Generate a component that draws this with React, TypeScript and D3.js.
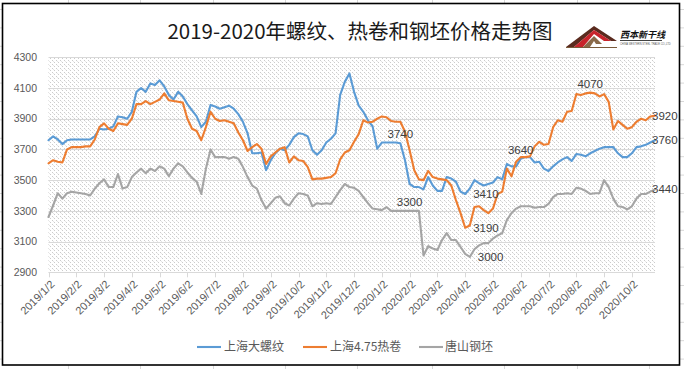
import React from 'react';
import * as d3 from 'd3';

const monthLabels = [
  '2019/1/2', '2019/2/2', '2019/3/2', '2019/4/2', '2019/5/2', '2019/6/2', '2019/7/2', '2019/8/2',
  '2019/9/2', '2019/10/2', '2019/11/2', '2019/12/2', '2020/1/2', '2020/2/2', '2020/3/2', '2020/4/2',
  '2020/5/2', '2020/6/2', '2020/7/2', '2020/8/2', '2020/9/2', '2020/10/2',
];
const pointsPerMonth = 6;
const yTicks = [2900, 3100, 3300, 3500, 3700, 3900, 4100, 4300];

const seriesNames = ['上海大螺纹', '上海4.75热卷', '唐山钢坯'];
const seriesColors = ['#5b9bd5', '#ed7d31', '#a5a5a5'];

const rebar = [
  3760, 3785, 3765, 3735, 3760, 3765, 3765, 3765, 3765, 3765,
  3785, 3835, 3830, 3835, 3850, 3915, 3910, 3900, 3945, 4075,
  4100, 4075, 4130, 4120, 4150, 4110, 4055, 4025, 4075, 4045,
  3995, 3955, 3915, 3845, 3880, 3990, 3980, 3965, 3975, 3985,
  3965, 3930, 3880, 3805, 3675, 3675, 3680, 3565, 3630, 3675,
  3705, 3695, 3730, 3780, 3805, 3800, 3785, 3695, 3665, 3695,
  3745, 3770, 3805, 4055, 4140, 4195, 4075, 3985, 3945, 3890,
  3850, 3705, 3745, 3745, 3745, 3745, 3740, 3630, 3475, 3455,
  3455, 3440, 3520, 3465, 3430, 3430, 3520, 3510, 3490, 3425,
  3410, 3445, 3500, 3480, 3465, 3475, 3485, 3520, 3505, 3605,
  3590, 3590, 3640, 3650, 3650, 3615, 3620, 3575, 3560, 3590,
  3615, 3635, 3650, 3625, 3670, 3665, 3655, 3675, 3690, 3705,
  3715, 3715, 3715, 3675, 3650, 3650, 3675, 3715, 3720, 3730,
  3745, 3760,
];

const hotCoil = [
  3610, 3630, 3620, 3615, 3700, 3715, 3715, 3715, 3720, 3720,
  3765, 3845, 3870, 3835, 3820, 3870, 3865, 3860, 3900, 3995,
  3995, 4015, 3995, 4010, 4025, 4065, 4020, 4015, 4010, 4005,
  3900, 3835, 3820, 3760, 3845, 3945, 3900, 3885, 3890, 3880,
  3870, 3810, 3760, 3690, 3715, 3735, 3705, 3605, 3655, 3680,
  3705, 3715, 3615, 3655, 3630, 3625, 3585, 3505, 3510, 3510,
  3515, 3520, 3545, 3635, 3680, 3695, 3750, 3800, 3890, 3875,
  3880, 3900, 3915, 3910, 3885, 3880, 3880, 3815, 3695, 3565,
  3505, 3500, 3560, 3520, 3510, 3505, 3500, 3465, 3370, 3285,
  3190, 3205, 3325, 3330, 3305, 3285, 3315, 3410, 3425, 3575,
  3525, 3620, 3650, 3650, 3655, 3720, 3750, 3730, 3735, 3845,
  3890, 3880, 3945, 3950, 4060, 4055, 4065, 4070, 4065, 4045,
  4060, 4010, 3830, 3885, 3860, 3835, 3845, 3880, 3900, 3890,
  3915, 3920,
];

const billet = [
  3260, 3335, 3415, 3380, 3415, 3425, 3420, 3415, 3410, 3400,
  3445, 3480, 3505, 3455, 3455, 3540, 3445, 3455, 3520, 3550,
  3575, 3545, 3575, 3560, 3590, 3575, 3525, 3575, 3610, 3590,
  3550, 3515, 3490, 3410, 3575, 3700, 3650, 3650, 3650, 3640,
  3650, 3640, 3585, 3520, 3465, 3445, 3370, 3315, 3350, 3385,
  3395, 3350, 3335, 3380, 3415, 3410, 3400, 3330, 3350, 3345,
  3350, 3345, 3390, 3435, 3475, 3455, 3450, 3430, 3390, 3350,
  3315, 3310, 3305, 3325, 3300, 3300, 3300, 3300, 3300, 3300,
  3300, 3010, 3070, 3055, 3045, 3110, 3155, 3110, 3110, 3065,
  3020, 3000, 3050, 3075, 3090, 3090, 3120, 3140, 3155, 3240,
  3285, 3315, 3330, 3330, 3330, 3320, 3325, 3325, 3345, 3390,
  3410, 3410, 3415, 3410, 3450, 3445, 3430, 3410, 3415, 3415,
  3500, 3455, 3380, 3330, 3325, 3310, 3330, 3380, 3410, 3410,
  3425, 3440,
];

// which series / point index gets a value label, and where
const valueLabels = [
  { s: 0, i: 76, pos: 'above' },
  { s: 2, i: 78, pos: 'above' },
  { s: 0, i: 90, pos: 'right' },
  { s: 1, i: 90, pos: 'right' },
  { s: 2, i: 91, pos: 'right' },
  { s: 0, i: 102, pos: 'above' },
  { s: 1, i: 117, pos: 'above' },
  { s: 1, i: 131, pos: 'end' },
  { s: 0, i: 131, pos: 'end' },
  { s: 2, i: 131, pos: 'end' },
];

const W = 684;
const H = 369;
const FONT = '"Liberation Sans", Arial, sans-serif';
const CJK = '"Noto Sans CJK SC", "Noto Sans", sans-serif';

export default function App() {
  const series = [rebar, hotCoil, billet];
  const plot = { left: 48.5, right: 655, top: 57.3, bottom: 272.3 };
  const n = rebar.length;
  const x = d3.scaleLinear().domain([0, n - 1]).range([plot.left, plot.right]);
  const y = d3.scaleLinear().domain([2900, 4300]).range([plot.bottom, plot.top]);
  const line = d3
    .line<number>()
    .x((_, i) => x(i))
    .y((d) => y(d));

  const cols = [68, 140, 213, 285, 357, 432, 504, 577, 649];
  const rows = d3.range(0, 20).map((k) => 9.5 + 18.4 * k);

  const legendItems = [
    { lx: 197, tx: 224 },
    { lx: 303, tx: 330 },
    { lx: 419, tx: 445 },
  ];

  return (
    <svg
      width={W}
      height={H}
      style={{ position: 'absolute', left: 0, top: 0, background: '#fff' }}
    >
      <defs>
        <pattern id="hatch" patternUnits="userSpaceOnUse" width={8} height={8}>
          <rect width={8} height={8} fill="#ffffff" />
          {[
            [0, 0], [2, 2], [4, 4], [6, 6],
            [4, 0], [6, 2], [0, 4], [2, 6],
            [1, 1], [5, 5], [5, 1], [1, 5],
          ].map(([px, py], k) => (
            <rect key={k} x={px} y={py} width={1} height={1} fill={k < 8 ? '#cccccc' : '#e6e6e6'} />
          ))}
        </pattern>
      </defs>

      {/* spreadsheet grid behind the chart */}
      {cols.map((c) => (
        <line key={'c' + c} x1={c + 0.5} x2={c + 0.5} y1={0} y2={H} stroke="#d8d8d8" />
      ))}
      {rows.map((r) => (
        <line key={'r' + r} x1={0} x2={W} y1={r} y2={r} stroke="#d8d8d8" />
      ))}

      {/* chart area */}
      <rect x={2.5} y={3.5} width={677} height={361.5} fill="#fff" stroke="#000" strokeWidth={1.6} />

      {/* title */}
      <text
        x={360}
        y={38.5}
        textAnchor="middle"
        fontFamily={CJK}
        fontSize={20.5}
        fill="#1a1a1a"
      >
        2019-2020年螺纹、热卷和钢坯价格走势图
      </text>

      {/* logo */}
      <g>
        <polygon points="566,47 594,26 617,41 611,41 594,30 574,47" fill="#5a2a1e" />
        <polygon points="574,47 594,30 611,41 604,41 594,34 583,47" fill="#c8242b" />
        <polygon points="583,47 594,36 602,44 596,44 594,41 590,47" fill="#8a6a4a" />
        <line x1={566} y1={47.5} x2={617} y2={47.5} stroke="#7a5a3a" strokeWidth={1} />
        <text x={620} y={38} fontFamily={CJK} fontSize={9} fontWeight={700} fill="#111" fontStyle="italic">
          西本新干线
        </text>
        <line x1={620} y1={40.5} x2={662} y2={40.5} stroke="#111" strokeWidth={0.8} />
        <text x={620} y={45} fontFamily={FONT} fontSize={2.6} fill="#555">
          CHINA WESTERN STEEL TRADE CO.,LTD
        </text>
      </g>

      {/* plot background */}
      <rect
        x={plot.left}
        y={plot.top}
        width={plot.right - plot.left}
        height={plot.bottom - plot.top}
        fill="url(#hatch)"
      />

      {/* gridlines */}
      {yTicks.map((t) => (
        <line
          key={t}
          x1={plot.left}
          x2={plot.right}
          y1={Math.round(y(t)) + 0.5}
          y2={Math.round(y(t)) + 0.5}
          stroke="#d9d9d9"
          strokeWidth={1}
        />
      ))}

      {/* y axis labels */}
      {yTicks.map((t) => (
        <text
          key={'yl' + t}
          x={37}
          y={y(t)}
          dy="0.35em"
          textAnchor="end"
          fontFamily={FONT}
          fontSize={10.5}
          fill="#595959"
        >
          {t}
        </text>
      ))}

      {/* x axis ticks and labels */}
      {monthLabels.map((lab, m) => {
        const tx = Math.round(x(m * pointsPerMonth)) + 0.5;
        return (
          <g key={lab}>
            <line x1={tx} x2={tx} y1={plot.bottom} y2={plot.bottom + 5} stroke="#d9d9d9" />
            <text
              transform={`translate(${tx + 3},${plot.bottom + 10}) rotate(-45)`}
              textAnchor="end"
              dy="0.35em"
              fontFamily={FONT}
              fontSize={11}
              fill="#595959"
            >
              {lab}
            </text>
          </g>
        );
      })}

      {/* series lines */}
      {series.map((s, k) => (
        <path
          key={k}
          d={line(s) || ''}
          fill="none"
          stroke={seriesColors[k]}
          strokeWidth={2.1}
          strokeLinejoin="round"
          strokeLinecap="round"
        />
      ))}

      {/* value labels */}
      {valueLabels.map((vl, k) => {
        const v = series[vl.s][vl.i];
        const px = x(vl.i);
        const py = y(v);
        if (vl.pos === 'above') {
          return (
            <text key={k} x={px} y={py - 5} textAnchor="middle" fontFamily={FONT} fontSize={11.5} fill="#404040">
              {v}
            </text>
          );
        }
        const dx = vl.pos === 'end' ? -3 : 8;
        return (
          <text key={k} x={px + dx} y={py} dy="0.35em" fontFamily={FONT} fontSize={11.5} fill="#404040">
            {v}
          </text>
        );
      })}

      {/* legend */}
      {seriesNames.map((name, k) => (
        <g key={name}>
          <line
            x1={legendItems[k].lx}
            x2={legendItems[k].lx + 24}
            y1={347}
            y2={347}
            stroke={seriesColors[k]}
            strokeWidth={2.1}
          />
          <text x={legendItems[k].tx} y={347} dy="0.35em" fontFamily={CJK} fontSize={12} fill="#595959">
            {name}
          </text>
        </g>
      ))}
    </svg>
  );
}
